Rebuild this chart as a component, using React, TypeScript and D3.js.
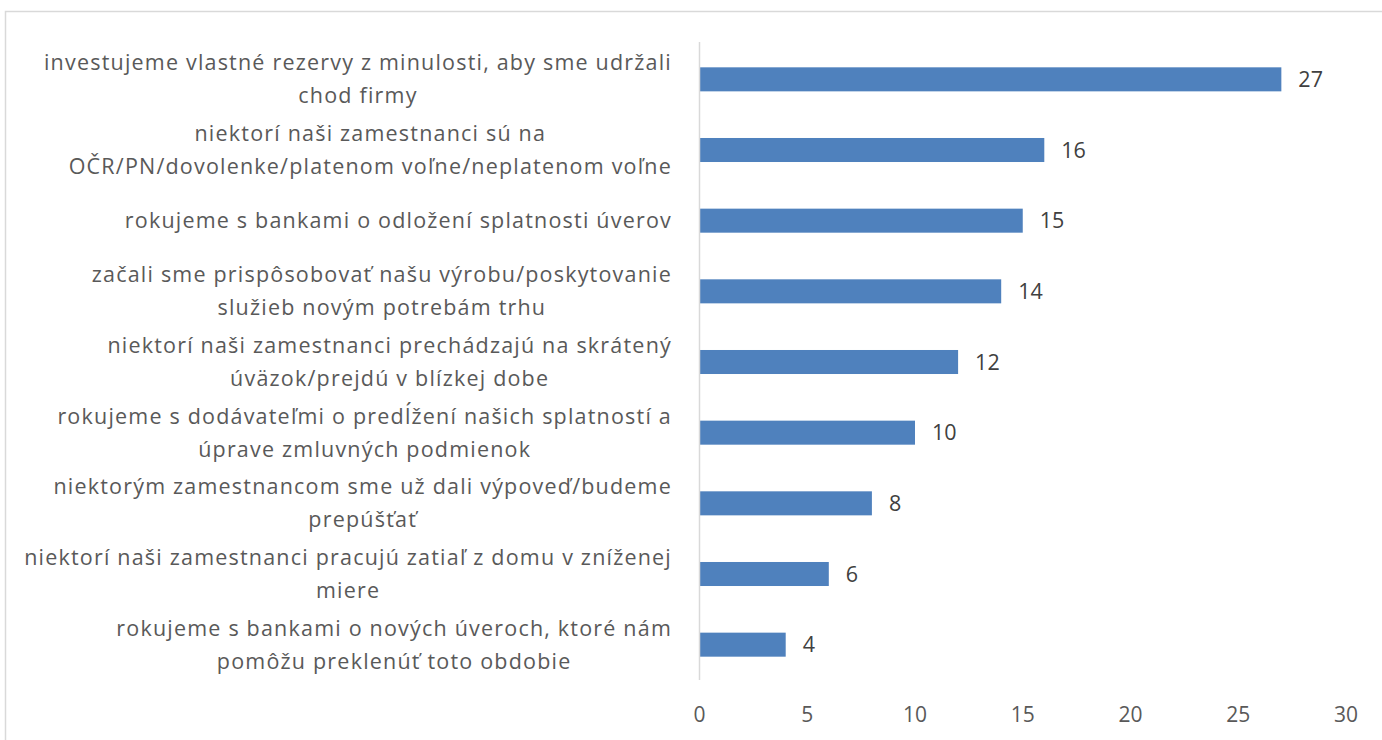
import React, { useEffect, useRef } from "react";
import * as d3 from "d3";

const categories: string[][] = [
  ["investujeme vlastné rezervy z minulosti, aby sme udržali", "chod firmy"],
  ["niektorí naši zamestnanci sú na", "OČR/PN/dovolenke/platenom voľne/neplatenom voľne"],
  ["rokujeme s bankami o odložení splatnosti úverov"],
  ["začali sme prispôsobovať našu výrobu/poskytovanie", "služieb novým potrebám trhu"],
  ["niektorí naši zamestnanci prechádzajú na skrátený", "úväzok/prejdú v blízkej dobe"],
  ["rokujeme s dodávateľmi o predĺžení našich splatností a", "úprave zmluvných podmienok"],
  ["niektorým zamestnancom sme už dali výpoveď/budeme", "prepúšťať"],
  ["niektorí naši zamestnanci pracujú zatiaľ z domu v zníženej", "miere"],
  ["rokujeme s bankami o nových úveroch, ktoré nám", "pomôžu preklenúť toto obdobie"],
];
const values: number[] = [27, 16, 15, 14, 12, 10, 8, 6, 4];
const xTicks: number[] = [0, 5, 10, 15, 20, 25, 30];

const W = 1382;
const H = 740;
const FONT = "'Open Sans', sans-serif";
const TEXT = "#595959";
const BAR = "#4f81bd";
const LINE = "#d9d9d9";

export default function App() {
  const ref = useRef<SVGSVGElement | null>(null);

  useEffect(() => {
    const svg = d3.select(ref.current);
    svg.selectAll("*").remove();

    const x = d3.scaleLinear().domain([0, 30]).range([699.5, 1346]);
    const keys = categories.map((_, i) => String(i));
    const y = d3.scaleBand<string>().domain(keys).range([44, 680]).paddingInner(0.66).paddingOuter(0.33);

    svg.append("rect").attr("width", W).attr("height", H).attr("fill", "#fff");
    svg
      .append("rect")
      .attr("x", 5.5)
      .attr("y", 11.5)
      .attr("width", W + 20)
      .attr("height", H + 20)
      .attr("fill", "none")
      .attr("stroke", LINE)
      .attr("stroke-width", 1.5);

    // bars
    svg
      .append("g")
      .selectAll("rect")
      .data(values)
      .join("rect")
      .attr("x", x(0))
      .attr("y", (_, i) => y(String(i))!)
      .attr("width", (d) => x(d) - x(0))
      .attr("height", y.bandwidth())
      .attr("fill", BAR);

    // axis line
    svg
      .append("line")
      .attr("x1", x(0))
      .attr("x2", x(0))
      .attr("y1", 42)
      .attr("y2", 680)
      .attr("stroke", LINE)
      .attr("stroke-width", 1.5);

    // value labels
    svg
      .append("g")
      .selectAll("text")
      .data(values)
      .join("text")
      .attr("x", (d) => x(d) + 17)
      .attr("y", (_, i) => y(String(i))! + y.bandwidth() / 2)
      .attr("dy", "0.35em")
      .attr("font-family", FONT)
      .attr("font-size", 21.5)
      .attr("fill", "#404040")
      .text((d) => String(d));

    // x tick labels
    svg
      .append("g")
      .selectAll("text")
      .data(xTicks)
      .join("text")
      .attr("x", (d) => x(d))
      .attr("y", 715)
      .attr("dy", "0.35em")
      .attr("text-anchor", "middle")
      .attr("font-family", FONT)
      .attr("font-size", 21)
      .attr("fill", TEXT)
      .text((d) => String(d));

    // category labels
    const right = 672;
    const lineH = 33;
    const gl = svg.append("g");
    categories.forEach((lines, i) => {
      const cy = y(String(i))! + y.bandwidth() / 2;
      const g = gl.append("g");
      const texts = lines.map((ln, j) =>
        g
          .append("text")
          .attr("y", cy + (j - (lines.length - 1) / 2) * lineH)
          .attr("dy", "0.35em")
          .attr("text-anchor", "middle")
          .attr("font-family", FONT)
          .attr("font-size", 21.5)
          .attr("letter-spacing", 1.2)
          .attr("fill", TEXT)
          .text(ln)
      );
      const widths = texts.map((t) => (t.node() as SVGTextElement).getComputedTextLength());
      const maxW = d3.max(widths) ?? 0;
      texts.forEach((t) => t.attr("x", right - maxW / 2));
    });
  }, []);

  return (
    <svg
      ref={ref}
      width={W}
      height={H}
      style={{ position: "absolute", left: 0, top: 0, display: "block" }}
    />
  );
}
